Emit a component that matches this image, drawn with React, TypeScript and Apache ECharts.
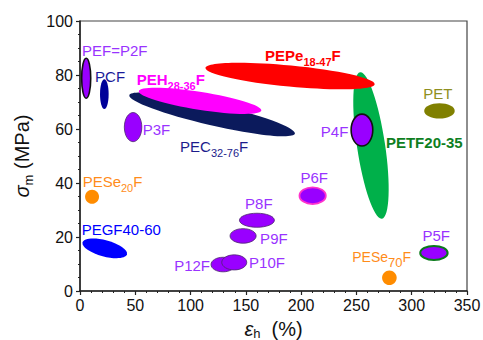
import React, { useEffect, useRef } from 'react';
import * as echarts from 'echarts';

// Blends, drawn in this order (later ones sit on top)
const blendNames = [
  'PETF20-35', 'PEPe18-47F', 'PEC32-76F', 'PEH28-36F', 'PEF=P2F', 'PCF', 'P3F', 'P4F', 'PET',
  'PESe20F', 'PEGF40-60', 'P6F', 'P8F', 'P9F', 'P12F', 'P10F', 'P5F', 'PESe70F',
];
// elongation at break (%) : centre and half-range
const elongationMid = [263.2, 190, 119.5, 108.6, 5.6, 22, 48, 255, 325.1, 10.9, 22.4, 210.4, 160, 147.5, 129.4, 139.5, 320.1, 279.8];
const elongationSpread = [12.7, 76.9, 76.9, 56.1, 4.1, 3.9, 7.9, 9.8, 13.8, 6.3, 20.8, 11.9, 15.8, 11.8, 10.9, 11.3, 12.4, 6.6];
// tensile strength (MPa) : centre and half-range
const strengthMid = [53.9, 79.6, 65.4, 70.4, 78.8, 72.9, 60.7, 59.6, 66.7, 34.9, 15.8, 35.3, 26.2, 20.4, 9.8, 10.6, 14.1, 4.9];
const strengthSpread = [27.4, 3.9, 4.0, 3.3, 7.4, 5.5, 5.4, 5.9, 2.8, 2.6, 3.0, 3.1, 2.6, 2.7, 2.7, 2.8, 2.6, 2.7];

// label texts (rich markup for subscripts) and their anchors in data units
const labelTexts = [
  '{b|PETF20-35}', '{b|PEPe}{bs|18-47}{b|F}', 'PEC{s|32-76}F', '{b|PEH}{bs|28-36}{b|F}', 'PEF=P2F', 'PCF', 'P3F', 'P4F', 'PET',
  'PESe{s|20}F', 'PEGF40-60', 'P6F', 'P8F', 'P9F', 'P12F', 'P10F', 'P5F', '{m|PESe}{s2|70}{m|F}',
];
const labelX = [276.7, 167.4, 90.5, 51.3, 1.8, 13.6, 56.7, 217.8, 310.4, 2.4, 1.5, 211.8, 161.7, 162.9, 117.6, 152.9, 322.2, 246.2];
const labelY = [55.0, 87.4, 53.7, 78.5, 88.9, 79.6, 60.0, 59.0, 73.0, 40.5, 22.6, 42.0, 32.4, 19.3, 9.3, 10.7, 20.4, 12.7];

// appearance
const PURPLE = '#9900ff';
const PURPLE_TEXT = '#9933ff';
const fills = ['#00b04a', '#ff0000', '#0b1a5c', '#ff00ff', PURPLE, '#000099', PURPLE, PURPLE, '#808000',
  '#ff8c00', '#0000ff', PURPLE, PURPLE, PURPLE, PURPLE, PURPLE, PURPLE, '#ff8c00'];
const strokes = ['none', 'none', 'none', 'none', '#111', 'none', '#4b2a6b', '#111', 'none',
  'none', 'none', '#ff33cc', '#4b2a6b', '#4b2a6b', '#4b2a6b', '#4b2a6b', '#0a7a1a', 'none'];
const strokeWidths = [0, 0, 0, 0, 1.6, 0, 0.8, 1.6, 0, 0, 0, 1.8, 0.8, 0.8, 0.8, 0.8, 2, 0];
const tiltDeg = [8.5, -5.5, -13, -9, 0, 0, 0, 0, 0, 0, -15, 0, 0, 0, 0, 0, 0, 0];
const labelColors = ['#0f7f1f', '#ff0000', '#1c1c8c', '#ff00ff', PURPLE_TEXT, '#1a1a99', PURPLE_TEXT, PURPLE_TEXT, '#8f8f20',
  '#ff8c1a', '#0000ff', PURPLE_TEXT, PURPLE_TEXT, PURPLE_TEXT, PURPLE_TEXT, PURPLE_TEXT, PURPLE_TEXT, '#ff8c1a'];
const labelAlign = ['left', 'left', 'left', 'left', 'left', 'left', 'left', 'left', 'left',
  'left', 'left', 'center', 'center', 'left', 'right', 'left', 'center', 'left'];
const labelBold = [true, true, false, true, false, false, false, false, false,
  false, false, false, false, false, false, false, false, false];

const FONT = '"Liberation Sans", Arial, Helvetica, sans-serif';

export default function App() {
  const ref = useRef<HTMLDivElement>(null);

  useEffect(() => {
    const chart = echarts.init(ref.current!, null, { renderer: 'svg' });

    const ellipseData = blendNames.map((_, i) => [
      elongationMid[i], strengthMid[i], elongationSpread[i], strengthSpread[i], i,
    ]);
    const labelData = blendNames.map((_, i) => [labelX[i], labelY[i], i]);

    const subRich = {
      s: { fontSize: 11, lineHeight: 11, verticalAlign: 'bottom', fontFamily: FONT },
      bs: { fontSize: 11, lineHeight: 11, verticalAlign: 'bottom', fontWeight: 'bold', fontFamily: FONT },
      b: { fontSize: 15, lineHeight: 24, fontWeight: 'bold', fontFamily: FONT },
      m: { fontSize: 14, lineHeight: 24, fontFamily: FONT },
      s2: { fontSize: 13, lineHeight: 13, verticalAlign: 'bottom', fontFamily: FONT },
    };

    const axisLine = { show: true, onZero: false, lineStyle: { color: '#222', width: 1.5 } };

    chart.setOption({
      animation: false,
      backgroundColor: '#ffffff',
      grid: {
        left: 80, right: 16, top: 21, bottom: 49,
        outerBoundsMode: 'none', containLabel: false,
        show: true, borderColor: '#444', borderWidth: 1.2,
      },
      xAxis: {
        type: 'value', min: 0, max: 350, interval: 50,
        axisLine,
        axisTick: { show: true, inside: false, length: 4, lineStyle: { color: '#222', width: 1.2 } },
        minorTick: { show: true, splitNumber: 5, length: 2, lineStyle: { color: '#222', width: 1 } },
        splitLine: { show: false },
        axisLabel: { fontSize: 16, color: '#111', margin: 6, fontFamily: FONT },
        name: '{i|ε}{s|h}  (%)',
        nameLocation: 'middle',
        nameGap: 25,
        nameTextStyle: {
          fontSize: 20, color: '#111', fontFamily: FONT, lineHeight: 22,
          rich: {
            i: { fontSize: 20, fontStyle: 'italic', lineHeight: 22, fontFamily: FONT, color: '#111' },
            s: { fontSize: 13, lineHeight: 13, verticalAlign: 'bottom', fontFamily: FONT, color: '#111' },
          },
        },
      },
      yAxis: {
        type: 'value', min: 0, max: 100, interval: 20,
        axisLine,
        axisTick: { show: true, inside: false, length: 4, lineStyle: { color: '#222', width: 1.2 } },
        minorTick: { show: true, splitNumber: 4, length: 2, lineStyle: { color: '#222', width: 1 } },
        splitLine: { show: false },
        axisLabel: { fontSize: 16, color: '#111', margin: 7, fontFamily: FONT },
        name: '{i|σ}{s|m} (MPa)',
        nameLocation: 'middle',
        nameGap: 44,
        nameTextStyle: {
          fontSize: 20, color: '#111', fontFamily: FONT, lineHeight: 26,
          rich: {
            i: { fontSize: 20, fontStyle: 'italic', lineHeight: 26, fontFamily: FONT, color: '#111' },
            s: { fontSize: 13, lineHeight: 13, verticalAlign: 'bottom', fontFamily: FONT, color: '#111' },
          },
        },
      },
      series: [
        {
          type: 'custom',
          coordinateSystem: 'cartesian2d',
          clip: false,
          data: ellipseData,
          encode: { x: 0, y: 1 },
          renderItem: (_params: any, api: any) => {
            const i = api.value(4) as number;
            const c = api.coord([api.value(0), api.value(1)]);
            const rx = api.size([api.value(2), 0])[0];
            const ry = api.size([0, api.value(3)])[1];
            return {
              type: 'ellipse',
              x: c[0],
              y: c[1],
              rotation: (tiltDeg[i] * Math.PI) / 180,
              shape: { cx: 0, cy: 0, rx, ry },
              style: {
                fill: fills[i],
                stroke: strokes[i],
                lineWidth: strokeWidths[i],
              },
            };
          },
        },
        {
          type: 'custom',
          coordinateSystem: 'cartesian2d',
          clip: false,
          data: labelData,
          encode: { x: 0, y: 1 },
          z: 5,
          renderItem: (_params: any, api: any) => {
            const i = api.value(2) as number;
            const p = api.coord([api.value(0), api.value(1)]);
            const color = labelColors[i];
            const rich: any = {};
            Object.keys(subRich).forEach((k) => {
              rich[k] = { ...(subRich as any)[k], fill: color };
            });
            return {
              type: 'text',
              x: p[0],
              y: p[1],
              style: {
                text: labelTexts[i],
                rich,
                fill: color,
                fontSize: 15,
                lineHeight: 24,
                fontWeight: labelBold[i] ? 'bold' : 'normal',
                fontFamily: FONT,
                align: labelAlign[i],
                verticalAlign: 'middle',
              },
            };
          },
        },
      ],
    });

    return () => chart.dispose();
  }, []);

  return (
    <div
      ref={ref}
      style={{ position: 'fixed', left: 0, top: 0, width: 483, height: 340, background: '#fff' }}
    />
  );
}
